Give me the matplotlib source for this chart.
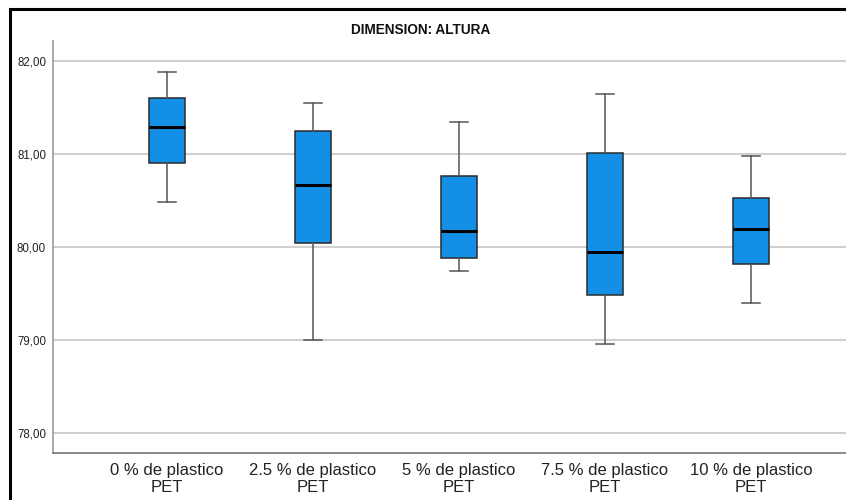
import matplotlib.pyplot as plt
from matplotlib.patches import Rectangle
from matplotlib.ticker import FuncFormatter

# Five-number summaries per mix (altura)
groups = ['0 % de plastico\nPET', '2.5 % de plastico\nPET', '5 % de plastico\nPET',
          '7.5 % de plastico\nPET', '10 % de plastico\nPET']
whisker_low = [80.48, 79.00, 79.74, 78.96, 79.40]
q1 = [80.90, 80.04, 79.88, 79.48, 79.82]
median = [81.29, 80.67, 80.17, 79.95, 80.19]
q3 = [81.61, 81.25, 80.77, 81.01, 80.53]
whisker_high = [81.89, 81.55, 81.35, 81.65, 80.98]
y_ticks = [78, 79, 80, 81, 82]

W, H = 846, 500
fig = plt.figure(figsize=(W / 100, H / 100), dpi=100)
ax = fig.add_axes([53 / W, (H - 453) / H, (865 - 53) / W, (453 - 41) / H])

stats = []
for i, g in enumerate(groups):
    stats.append({'label': g, 'whislo': whisker_low[i], 'q1': q1[i], 'med': median[i],
                  'q3': q3[i], 'whishi': whisker_high[i], 'fliers': []})

positions = list(range(1, len(groups) + 1))
ax.bxp(stats, positions=positions, widths=0.25, patch_artist=True, showfliers=False,
       boxprops=dict(facecolor='#148FE6', edgecolor='#2a2a2a', linewidth=1.1),
       medianprops=dict(color='black', linewidth=2.2),
       whiskerprops=dict(color='#555555', linewidth=1.1),
       capprops=dict(color='#555555', linewidth=1.1),
       capwidths=0.125, zorder=3)

ax.set_xlim(0.22, 5.78)
ax.set_ylim(77.78, 82.22)
ax.set_yticks(y_ticks)
ax.yaxis.set_major_formatter(FuncFormatter(lambda v, p: f'{v:.2f}'.replace('.', ',')))
ax.grid(axis='y', color='#d0d0d0', linewidth=1.5, zorder=0)
ax.set_axisbelow(True)

ax.tick_params(axis='y', length=0, pad=5, labelsize=8.3, labelcolor='#222222')
ax.tick_params(axis='x', length=0, pad=7, labelsize=12, labelcolor='#222222')
for lbl in ax.get_xticklabels():
    lbl.set_linespacing(1.15)
for lbl in ax.get_xticklabels() + ax.get_yticklabels():
    lbl.set_fontfamily('Liberation Sans')

for side in ['top', 'right']:
    ax.spines[side].set_visible(False)
ax.spines['left'].set_color('#999999')
ax.spines['bottom'].set_color('#777777')
ax.spines['left'].set_linewidth(1.2)
ax.spines['bottom'].set_linewidth(1.2)

fig.text(421 / W, 1 - 30 / H, 'DIMENSION: ALTURA', ha='center', va='center',
         fontsize=9.8, fontweight='bold', family='Liberation Sans', color='#111111')

# outer frame around the chart
fig.patches.append(Rectangle((10 / W, -0.1), 1.2, 1.1 - 9 / H, transform=fig.transFigure,
                             fill=False, edgecolor='black', linewidth=2.2))

fig.savefig('out.png', dpi=100)
